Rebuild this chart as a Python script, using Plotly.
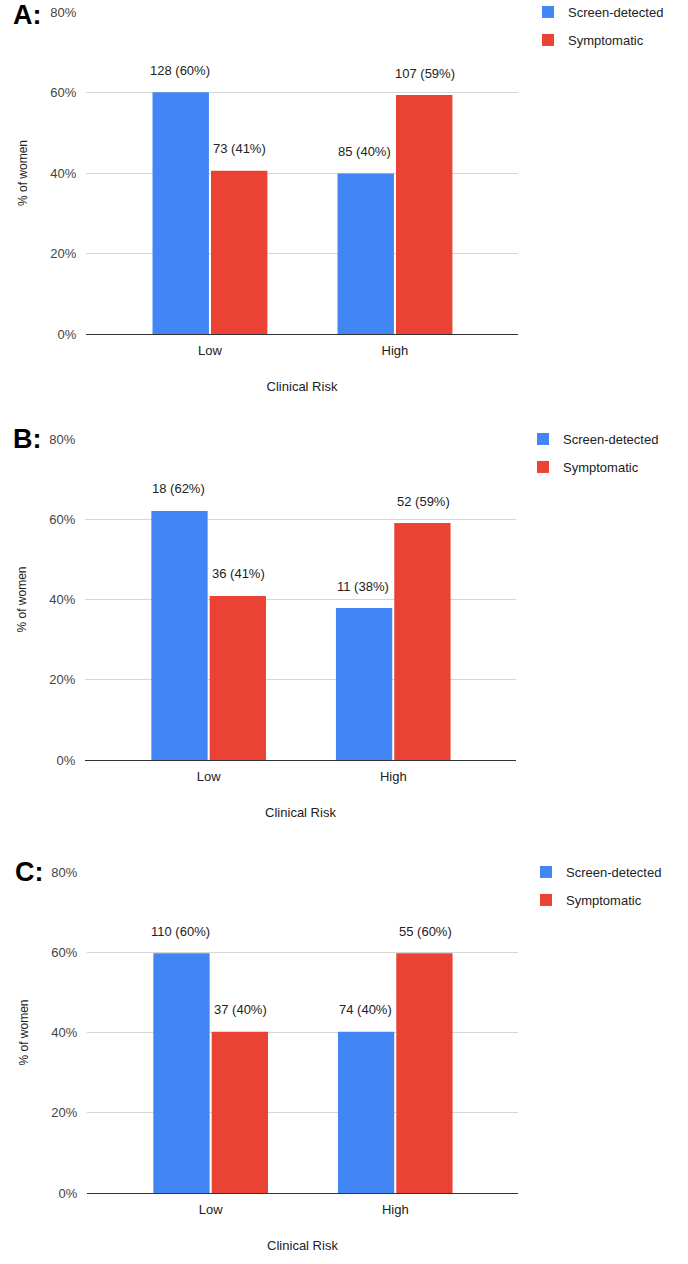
import plotly.graph_objects as go

categories = ["Low", "High"]
series_names = ["Screen-detected", "Symptomatic"]
panel_labels = ["A:", "B:", "C:"]

# counts and percentages
screen_counts = {"A": [128, 85], "B": [18, 11], "C": [110, 74]}
screen_pct = {"A": [60.1, 39.9], "B": [62.1, 37.9], "C": [59.8, 40.2]}
symp_counts = {"A": [73, 107], "B": [36, 52], "C": [37, 55]}
symp_pct = {"A": [40.6, 59.4], "B": [40.9, 59.1], "C": [40.2, 59.8]}
label_pct_screen = {"A": [60, 40], "B": [62, 38], "C": [60, 40]}
label_pct_symp = {"A": [41, 59], "B": [41, 59], "C": [40, 60]}

y_ticks = [0, 20, 40, 60, 80]
y_ticktext = ["0%", "20%", "40%", "60%", "80%"]

W, H = 688, 1264
BLUE = "#4285F4"
RED = "#EA4335"
FONT = "Liberation Sans, Arial, sans-serif"

# layout geometry per panel (pixels, page coordinates)
geo = [
    dict(key="A", left=86, right=518, top=12, bottom=334, leg_x=528, lab_x=11, lab_y=15),
    dict(key="B", left=85, right=516, top=439, bottom=760, leg_x=523, lab_x=11, lab_y=439),
    dict(key="C", left=87, right=518, top=872, bottom=1193, leg_x=526, lab_x=13, lab_y=872),
]

def px_x(p):
    return p / W

def px_y(p):
    return 1 - p / H

fig = go.Figure()
annotations = []
layout_upd = {}

for i, g in enumerate(geo):
    k = g["key"]
    n = "" if i == 0 else str(i + 1)
    xa = "x" + n
    ya = "y" + n
    leg1 = "legend" + ("" if i == 0 else str(2 * i + 1))
    leg2 = "legend" + str(2 * i + 2)

    fig.add_trace(go.Bar(
        x=categories, y=screen_pct[k], name=series_names[0],
        marker=dict(color=BLUE, line=dict(width=0)),
        xaxis=xa, yaxis=ya, legend=leg1, hoverinfo="skip",
    ))
    fig.add_trace(go.Bar(
        x=categories, y=symp_pct[k], name=series_names[1],
        marker=dict(color=RED, line=dict(width=0)),
        xaxis=xa, yaxis=ya, legend=leg2, hoverinfo="skip",
    ))

    for j, c in enumerate(categories):
        annotations.append(dict(
            x=c, y=screen_pct[k][j], xref=xa, yref=ya,
            text=f"{screen_counts[k][j]} ({label_pct_screen[k][j]}%)",
            showarrow=False, xshift=-30, yshift=22, yanchor="middle",
            font=dict(family=FONT, size=13, color="#222222"),
        ))
        annotations.append(dict(
            x=c, y=symp_pct[k][j], xref=xa, yref=ya,
            text=f"{symp_counts[k][j]} ({label_pct_symp[k][j]}%)",
            showarrow=False, xshift=30, yshift=22, yanchor="middle",
            font=dict(family=FONT, size=13, color="#222222"),
        ))

    annotations.append(dict(
        x=px_x(g["lab_x"]), y=px_y(g["lab_y"]), xref="paper", yref="paper",
        text="<b>" + panel_labels[i] + "</b>", showarrow=False,
        xanchor="left", yanchor="middle",
        font=dict(family=FONT, size=27, color="#000000"),
    ))

    layout_upd["xaxis" + n] = dict(
        domain=[px_x(g["left"]), px_x(g["right"])],
        anchor=ya, type="category", range=[-0.67, 1.665],
        showgrid=False, zeroline=False, showline=False,
        ticks="outside", ticklen=4, tickcolor="rgba(0,0,0,0)",
        tickfont=dict(family=FONT, size=13, color="#222222"),
        title=dict(text="Clinical Risk", standoff=25,
                   font=dict(family=FONT, size=13, color="#222222")),
        automargin=False, fixedrange=True,
    )
    layout_upd["yaxis" + n] = dict(
        domain=[px_y(g["bottom"]), px_y(g["top"])],
        anchor=xa, range=[0, 80.05], tickvals=y_ticks, ticktext=y_ticktext,
        showgrid=True, gridcolor="#d6d6d6", gridwidth=1,
        zeroline=True, zerolinecolor="#333333", zerolinewidth=1,
        showline=False,
        ticks="outside", ticklen=6, tickcolor="rgba(0,0,0,0)",
        tickfont=dict(family=FONT, size=13, color="#444444"),
        title=dict(text="% of women", standoff=20,
                   font=dict(family=FONT, size=12, color="#222222")),
        automargin=False, fixedrange=True,
    )
    for m, leg in enumerate([leg1, leg2]):
        layout_upd[leg] = dict(
            x=px_x(g["leg_x"]), y=px_y(g["top"] + 28 * m),
            xanchor="left", yanchor="middle",
            bgcolor="rgba(0,0,0,0)", borderwidth=0,
            font=dict(family=FONT, size=13, color="#222222"),
        )

fig.update_layout(
    width=W, height=H,
    margin=dict(l=0, r=0, t=0, b=0, autoexpand=False),
    paper_bgcolor="white", plot_bgcolor="white",
    barmode="group", bargap=0.368, bargroupgap=0.035,
    showlegend=True,
    annotations=annotations,
    **layout_upd,
)

fig.write_html("out.html", config={"displayModeBar": False},
               post_script="document.body.style.margin='0';")
